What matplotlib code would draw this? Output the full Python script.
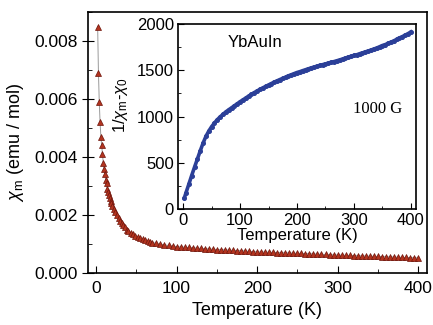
import matplotlib
matplotlib.use("Agg")
import matplotlib.pyplot as plt
from matplotlib.ticker import MultipleLocator

plt.rcParams['font.family'] = ['Liberation Sans', 'DejaVu Sans']
plt.rcParams['mathtext.fontset'] = 'custom'
plt.rcParams['mathtext.rm'] = 'Liberation Sans'
plt.rcParams['mathtext.it'] = 'Liberation Sans:italic'

# chi_m vs T (main panel)
t_main = [2, 3, 4, 5, 6, 7, 8, 9, 10, 11, 12, 13, 14, 15, 16, 17, 18, 19, 20,
          22, 24, 26, 28, 30, 32, 34, 36, 38, 40, 43, 46, 49, 52, 55, 58, 61,
          64, 67, 70, 75, 80, 85, 90, 95,
          100, 105, 110, 115, 120, 125, 130, 135, 140, 145, 150, 155, 160, 165,
          170, 175, 180, 185, 190, 195, 200, 205, 210, 215, 220, 225, 230, 235,
          240, 245, 250, 255, 260, 265, 270, 275, 280, 285, 290, 295, 300, 305,
          310, 315, 320, 325, 330, 335, 340, 345, 350, 355, 360, 365, 370, 375,
          380, 385, 390, 395, 400]
chi_main = [0.0085, 0.0069, 0.0059, 0.0052, 0.0047, 0.0044, 0.0041, 0.0038,
            0.0036, 0.0034, 0.0032, 0.0031, 0.0029, 0.0028, 0.0027, 0.0026,
            0.0025, 0.0024, 0.0023,
            0.0022, 0.0021, 0.0020, 0.0019, 0.00181, 0.00172, 0.00164, 0.00157,
            0.0015, 0.00145, 0.00139, 0.00133, 0.00128, 0.00124, 0.0012,
            0.00116, 0.00113, 0.0011, 0.00107, 0.00105, 0.00102, 0.00099,
            0.00097, 0.00095, 0.00093,
            0.00091, 0.00090, 0.00089, 0.00088, 0.00087, 0.00086, 0.00085,
            0.00084, 0.00083, 0.00082, 0.00081, 0.000805, 0.00080, 0.00079,
            0.00078, 0.000775, 0.00077, 0.00076, 0.000745, 0.00074, 0.00073,
            0.000725, 0.00072, 0.000715, 0.00071, 0.000705, 0.0007, 0.000695,
            0.00069, 0.000685, 0.00068, 0.000675, 0.00067, 0.000665, 0.00066,
            0.00065, 0.000645, 0.00064, 0.00063, 0.000625, 0.00062, 0.000615,
            0.00061, 0.000605, 0.0006, 0.000595, 0.00059, 0.000585, 0.00058,
            0.000575, 0.00057, 0.000565, 0.00056, 0.000555, 0.00055, 0.000545,
            0.00054, 0.000535, 0.00053, 0.000525, 0.00052]

# 1/(chi_m - chi_0) vs T (inset)
t_inset = [2] + list(range(5, 401, 5))
inv_inset = [118, 175, 268, 362, 452, 540, 628, 712, 785, 842, 890, 930, 966,
             996, 1024, 1050, 1073, 1094, 1116, 1138, 1160, 1180, 1200, 1221,
             1240, 1259, 1277, 1294, 1310, 1326, 1341, 1357, 1372, 1386, 1400,
             1413, 1426, 1440, 1452, 1464, 1476, 1485, 1496, 1506, 1516, 1526,
             1535, 1544, 1553, 1561, 1569, 1577, 1586, 1594, 1603, 1612, 1622,
             1631, 1642, 1650, 1660, 1668, 1679, 1688, 1699, 1708, 1719, 1730,
             1741, 1754, 1768, 1778, 1791, 1804, 1818, 1834, 1850, 1864, 1880,
             1896, 1915]

fig = plt.figure(figsize=(4.33, 3.25), dpi=100)
ax = fig.add_axes([0.2032, 0.16, 0.7829, 0.803])
ax.plot(t_main, chi_main, color="#9a9a9a", lw=0.7, zorder=1)
ax.plot(t_main, chi_main, ls="none", marker="^", ms=4.2, mfc="#b3341f",
        mec="#6e150c", mew=0.5, zorder=2)
ax.set_xlim(-10, 411)
ax.set_ylim(0, 0.009)
ax.xaxis.set_major_locator(MultipleLocator(100))
ax.xaxis.set_minor_locator(MultipleLocator(50))
ax.yaxis.set_major_locator(MultipleLocator(0.002))
ax.yaxis.set_minor_locator(MultipleLocator(0.001))
ax.yaxis.set_major_formatter(plt.FormatStrFormatter('%.3f'))
ax.tick_params(axis='x', which='both', direction='in', labelsize=12.5, pad=6)
ax.tick_params(axis='x', which='major', length=5)
ax.tick_params(axis='x', which='minor', length=3)
ax.tick_params(axis='y', which='major', direction='inout', length=8, labelsize=12.5)
ax.tick_params(axis='y', which='minor', direction='in', length=3)
ax.set_xlabel("Temperature (K)", fontsize=13, labelpad=4)
ax.set_ylabel(r"$\chi_{\rm m}$ (emu / mol)", fontsize=13, labelpad=6)
for s in ax.spines.values():
    s.set_linewidth(1.2)

ins = fig.add_axes([0.4111, 0.3569, 0.5496, 0.5691])
ins.plot(t_inset, inv_inset, color="#2b3f98", lw=2.6, zorder=1)
ins.plot(t_inset, inv_inset, ls="none", marker="o", ms=2.6, color="#2b3f98", zorder=2)
ins.set_xlim(-9, 409)
ins.set_ylim(0, 2000)
ins.xaxis.set_major_locator(MultipleLocator(100))
ins.xaxis.set_minor_locator(MultipleLocator(50))
ins.yaxis.set_major_locator(MultipleLocator(500))
ins.yaxis.set_minor_locator(MultipleLocator(250))
ins.tick_params(which='both', direction='in', labelsize=12, pad=3)
ins.tick_params(which='major', length=4)
ins.tick_params(which='minor', length=2.5)
ins.set_xlabel("Temperature (K)", fontsize=12, labelpad=0)
ins.set_ylabel(r"1/$\chi_{\rm m}$-$\chi_0$", fontsize=12)
ins.yaxis.set_label_coords(-0.2, 0.56)
ins.text(0.21, 0.9, "YbAuIn", transform=ins.transAxes, fontsize=12,
         va="center")
ins.text(0.84, 0.54, "1000 G", transform=ins.transAxes, fontsize=12,
         family="Liberation Serif", ha="center", va="center")
for s in ins.spines.values():
    s.set_linewidth(1.2)

fig.savefig("out.png", dpi=100)
